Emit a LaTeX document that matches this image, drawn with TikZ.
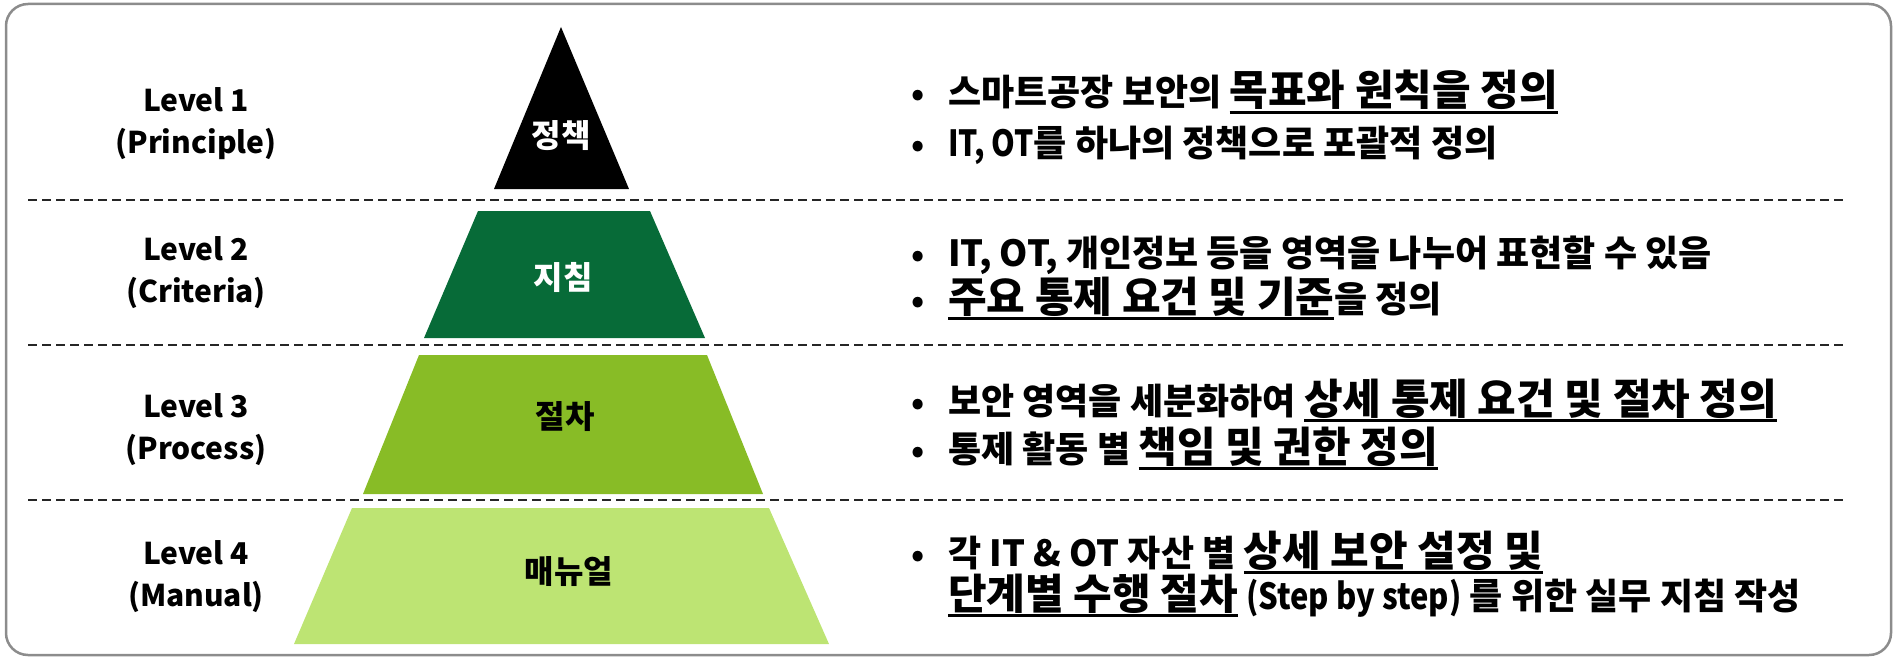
\documentclass[tikz,border=0pt]{standalone}
\usepackage{fontspec}
\usepackage{graphicx}
\setmainfont{Noto Sans CJK KR}
\definecolor{lvtwo}{HTML}{076B38}
\definecolor{lvthree}{HTML}{88BC26}
\definecolor{lvfour}{HTML}{BDE473}
\definecolor{frame}{HTML}{8C8C8C}
\newcommand\myul[1]{\setbox0\hbox{#1}\rlap{\rule[-0.2em]{\wd0}{0.07em}}\box0}
\newcommand\narrowlat[2]{\scalebox{#1}[1]{#2}}
\newcommand\bigsz{\fontsize{42}{46}\selectfont}
\tikzset{
  lvl/.style={align=center, inner sep=0pt, font=\bfseries\fontsize{30}{42}\selectfont},
  pyr/.style={inner sep=0pt, font=\bfseries\fontsize{32}{36}\selectfont},
  txt/.style={inner sep=0pt, anchor=base west, font=\bfseries\fontsize{36}{40}\selectfont},
  bul/.style={inner sep=0pt, anchor=base, font=\bfseries\fontsize{33}{40}\selectfont},
  sep/.style={line width=1.6pt, dash pattern=on 9pt off 5pt, black!85}
}
\begin{document}
\begin{tikzpicture}[x=1pt,y=-1pt]
\useasboundingbox (0,0) rectangle (1897,658);
\draw[frame, line width=2.5pt, rounded corners=22pt] (6,4) rectangle (1891,655);
% separators
\coordinate (s1a) at (28,200); \coordinate (s1b) at (1846,200);
\coordinate (s2a) at (28,345); \coordinate (s2b) at (1846,345);
\coordinate (s3a) at (28,500); \coordinate (s3b) at (1846,500);
\draw[sep] (s1a) -- (s1b);
\draw[sep] (s2a) -- (s2b);
\draw[sep] (s3a) -- (s3b);
% pyramid
\fill[black] (561,27) -- (629,189) -- (494,189) -- cycle;
\fill[lvtwo] (478,211) -- (650,211) -- (705,338) -- (424,338) -- cycle;
\fill[lvthree] (419,355) -- (707,355) -- (763,494) -- (363,494) -- cycle;
\fill[lvfour] (352,508) -- (769,508) -- (829,644) -- (294,644) -- cycle;
\node[pyr, text=white] (p1) at (561,136) {정책};
\node[pyr, text=white] (p2) at (563,277) {지침};
\node[pyr] (p3) at (565,417) {절차};
\node[pyr] (p4) at (569,572) {매뉴얼};
% level labels
\node[lvl] (l1) at (196,124) {Level 1\\(Principle)};
\node[lvl] (l2) at (196,273) {Level 2\\(Criteria)};
\node[lvl] (l3) at (196,430) {Level 3\\(Process)};
\node[lvl] (l4) at (196,577) {Level 4\\(Manual)};
% right texts
\node[bul] (b1a) at (918,106) {•};
\node[txt] (t1a) at (948,106) {스마트공장 보안의 {\bigsz\myul{목표와 원칙을 정의}}};
\node[bul] (b1b) at (918,156) {•};
\node[txt] (t1b) at (948,156) {\narrowlat{0.84}{IT, OT}를 하나의 정책으로 포괄적 정의};
\node[bul] (b2a) at (918,266) {•};
\node[txt] (t2a) at (948,266) {IT, OT, 개인정보 등을 영역을 나누어 표현할 수 있음};
\node[bul] (b2b) at (918,312) {•};
\node[txt] (t2b) at (948,312) {{\bigsz\myul{주요 통제 요건 및 기준}}을 정의};
\node[bul] (b3a) at (918,414) {•};
\node[txt] (t3a) at (948,414) {보안 영역을 세분화하여 {\bigsz\myul{상세 통제 요건 및 절차 정의}}};
\node[bul] (b3b) at (918,462) {•};
\node[txt] (t3b) at (948,462) {통제 활동 별 {\bigsz\myul{책임 및 권한 정의}}};
\node[bul] (b4a) at (918,566) {•};
\node[txt] (t4a) at (948,566) {각 IT \& OT 자산 별 {\bigsz\myul{상세 보안 설정 및}}};
\node[txt] (t4b) at (948,609) {{\bigsz\myul{단계별 수행 절차}} \narrowlat{0.86}{(Step by step)} 를 위한 실무 지침 작성};
\end{tikzpicture}
\end{document}
